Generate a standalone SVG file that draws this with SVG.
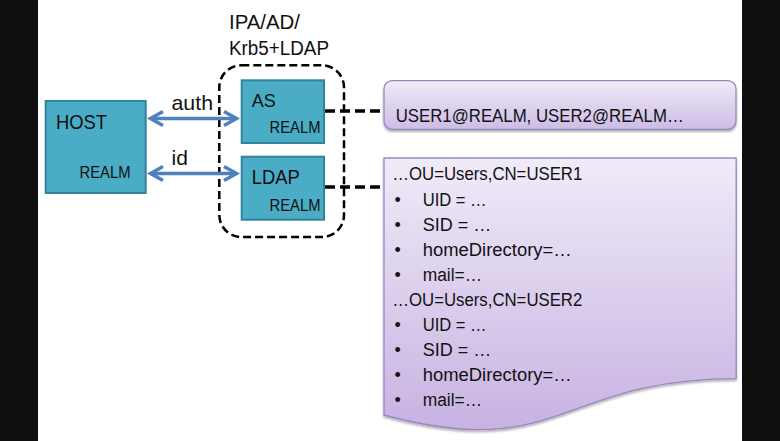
<svg xmlns="http://www.w3.org/2000/svg" width="780" height="441" viewBox="0 0 780 441">
  <defs>
    <style>
      text { font-family: "Liberation Sans", Arial, sans-serif; fill: #111; }
      .fit { }
      .teal { fill: #4BACC6; stroke: #31849B; stroke-width: 2; }
      .big { font-size: 19.5px; }
      .realm { font-size: 16px; }
      .body { font-size: 18px; }
      .arrow { stroke: #4F81BD; stroke-width: 3.5; fill: none; marker-start: url(#chev); marker-end: url(#chev); }
      .dash { stroke: #000; stroke-width: 3.5; fill: none; stroke-dasharray: 10 5; }
      .doc { stroke: #9B86C4; stroke-width: 1.3; filter: url(#shadow); }
    </style>
    <marker id="chev" markerUnits="userSpaceOnUse" viewBox="-16 -10 20 20" refX="0" refY="0" markerWidth="20" markerHeight="20" orient="auto-start-reverse" overflow="visible">
      <path d="M-12.5,-7 L0,0 L-12.5,7" fill="none" stroke="#4F81BD" stroke-width="3.5" stroke-linejoin="miter"/>
    </marker>
    <linearGradient id="gTop" x1="0" y1="0" x2="0" y2="1">
      <stop offset="0" stop-color="#F0EBF8"/>
      <stop offset="1" stop-color="#CDBCE6"/>
    </linearGradient>
    <linearGradient id="gDoc" x1="0" y1="0" x2="0" y2="1">
      <stop offset="0" stop-color="#F0EBF8"/>
      <stop offset="1" stop-color="#C7B2E2"/>
    </linearGradient>
    <filter id="shadow" x="-5%" y="-5%" width="110%" height="115%">
      <feDropShadow dx="0" dy="2" stdDeviation="1.3" flood-color="#000" flood-opacity="0.3"/>
    </filter>
  </defs>

  <rect x="0" y="0" width="780" height="441" fill="#FFFFFF"/>
  <rect x="0" y="0" width="38" height="441" fill="#0F0F0F"/>
  <rect x="742" y="0" width="38" height="441" fill="#0F0F0F"/>

  <g id="group-label">
    <text class="big" x="229" y="28.5" textLength="71" lengthAdjust="spacingAndGlyphs">IPA/AD/</text>
    <text class="big" x="229" y="54.5" textLength="100" lengthAdjust="spacingAndGlyphs">Krb5+LDAP</text>
  </g>

  <g id="realm-group">
    <rect x="219.3" y="65.3" width="124.7" height="171.7" rx="22" ry="22" fill="none" stroke="#000" stroke-width="2.5" stroke-dasharray="8 4"/>
  </g>

  <g id="connectors">
    <line class="arrow" x1="150.5" y1="118.5" x2="236.5" y2="118.5"/>
    <line class="arrow" x1="150.5" y1="173.5" x2="236.5" y2="173.5"/>
    <line class="dash" x1="325" y1="111" x2="384" y2="111"/>
    <line class="dash" x1="325" y1="187" x2="384" y2="187"/>
    <text x="171.5" y="110" style="font-size:21px" textLength="41.5" lengthAdjust="spacingAndGlyphs">auth</text>
    <text x="171.5" y="165" style="font-size:21px">id</text>
  </g>

  <g id="host">
    <rect class="teal" x="45.7" y="101" width="100" height="92"/>
    <text x="56" y="129" style="font-size:20.5px" textLength="51" lengthAdjust="spacingAndGlyphs">HOST</text>
    <text class="realm" x="79.5" y="178.3" textLength="51" lengthAdjust="spacingAndGlyphs">REALM</text>
  </g>

  <g id="as">
    <rect class="teal" x="241.7" y="80.3" width="82.3" height="62.7"/>
    <text x="251.7" y="106.7" style="font-size:19px" textLength="24" lengthAdjust="spacingAndGlyphs">AS</text>
    <text class="realm" x="269.5" y="132.7" textLength="51" lengthAdjust="spacingAndGlyphs">REALM</text>
  </g>

  <g id="ldap">
    <rect class="teal" x="241.7" y="156.7" width="82.3" height="63"/>
    <text x="251.7" y="184" style="font-size:19.5px" textLength="48" lengthAdjust="spacingAndGlyphs">LDAP</text>
    <text class="realm" x="269.5" y="210.7" textLength="51" lengthAdjust="spacingAndGlyphs">REALM</text>
  </g>

  <g id="principals">
    <rect class="doc" x="384" y="80.7" width="352" height="48.6" rx="8" ry="8" fill="url(#gTop)"/>
    <text x="395.7" y="122.3" style="font-size:17.5px" textLength="288" lengthAdjust="spacingAndGlyphs">USER1@REALM,  USER2@REALM…</text>
  </g>

  <g id="directory">
    <path class="doc" d="M384,158 H736.2 V378.6 C560,378.6 560,462.8 384,415 Z" fill="url(#gDoc)"/>
    <g class="body">
      <text x="392.3" y="180" textLength="190" lengthAdjust="spacingAndGlyphs">…OU=Users,CN=USER1</text>
      <text x="394.5" y="206">•</text><text x="422.7" y="206" textLength="64" lengthAdjust="spacingAndGlyphs">UID = …</text>
      <text x="394.5" y="231">•</text><text x="422.7" y="231">SID = …</text>
      <text x="394.5" y="256">•</text><text x="422.7" y="256" textLength="149" lengthAdjust="spacingAndGlyphs">homeDirectory=…</text>
      <text x="394.5" y="281">•</text><text x="422.7" y="281" textLength="59.5" lengthAdjust="spacingAndGlyphs">mail=…</text>
      <text x="392.3" y="306" textLength="190" lengthAdjust="spacingAndGlyphs">…OU=Users,CN=USER2</text>
      <text x="394.5" y="331">•</text><text x="422.7" y="331" textLength="64" lengthAdjust="spacingAndGlyphs">UID = …</text>
      <text x="394.5" y="356">•</text><text x="422.7" y="356">SID = …</text>
      <text x="394.5" y="381">•</text><text x="422.7" y="381" textLength="149" lengthAdjust="spacingAndGlyphs">homeDirectory=…</text>
      <text x="394.5" y="406">•</text><text x="422.7" y="406" textLength="59.5" lengthAdjust="spacingAndGlyphs">mail=…</text>
    </g>
  </g>
</svg>
